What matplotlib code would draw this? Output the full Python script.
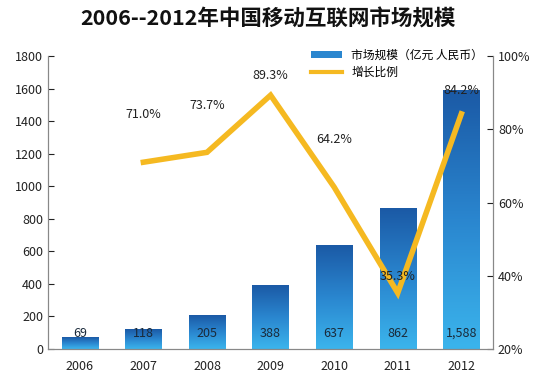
import numpy as np
import matplotlib
matplotlib.use("Agg")
import matplotlib.pyplot as plt
from matplotlib.colors import LinearSegmentedColormap
from matplotlib.patches import Patch
from matplotlib.lines import Line2D

plt.rcParams['font.family'] = ['Noto Sans CJK SC', 'DejaVu Sans']

years = ["2006", "2007", "2008", "2009", "2010", "2011", "2012"]
market = [69, 118, 205, 388, 637, 862, 1588]
market_labels = ["69", "118", "205", "388", "637", "862", "1,588"]
growth_years = ["2007", "2008", "2009", "2010", "2011", "2012"]
growth = [71.0, 73.7, 89.3, 64.2, 35.3, 84.2]

# where the growth labels sit, in % units above each point
label_lift = [12.9, 12.9, 5.5, 12.9, 4.6, 6.5]

fig = plt.figure(figsize=(5.36, 3.8), dpi=100)
ax = fig.add_axes([0.0896, 0.0816, 0.8304, 0.771])
ax2 = ax.twinx()

x = np.arange(len(years))
bar_w = 0.57
cmap = LinearSegmentedColormap.from_list("bl", ["#3bb4ec", "#2a86cf", "#1b5aa6"])
grad = np.linspace(0, 1, 100).reshape(-1, 1)
bars = ax.bar(x, market, width=bar_w, color="none")
for b in bars:
    x0, h = b.get_x(), b.get_height()
    ax.imshow(grad, cmap=cmap, aspect="auto", origin="lower",
              extent=[x0, x0 + bar_w, 0, h], zorder=2)
for xi, lab in zip(x, market_labels):
    ax.text(xi, 95, lab, ha="center", va="center", fontsize=9, color="#1a2a3a", zorder=5)

ax.set_xlim(-0.5, len(years) - 0.5)
ax.set_ylim(0, 1800)
ax.set_yticks(range(0, 1801, 200))
ax.set_xticks(x)
ax.set_xticklabels(years)
ax.tick_params(axis="y", direction="in", length=4, labelsize=9, colors="#222222")
ax.tick_params(axis="x", length=0, labelsize=9, pad=8, colors="#222222")

gx = [years.index(g) for g in growth_years]
ax2.plot(gx, growth, color="#f5b921", lw=4, solid_joinstyle="miter", zorder=2)
for xi, v, d in zip(gx, growth, label_lift):
    ax2.text(xi, v + d, f"{v:.1f}%", ha="center", va="center", fontsize=9,
             color="#222222", zorder=5)
ax2.set_ylim(20, 100)
ax2.set_yticks(range(20, 101, 20))
ax2.set_yticklabels([f"{t}%" for t in range(20, 101, 20)])
ax2.tick_params(axis="y", direction="in", length=4, labelsize=9, colors="#222222")

for a in (ax, ax2):
    a.spines["top"].set_visible(False)
    for s in ("left", "right", "bottom"):
        a.spines[s].set_color("#888888")

handles = [Patch(facecolor="#2a86cf", label="市场规模（亿元 人民币）"),
           Line2D([0], [0], color="#f5b921", lw=3, label="增长比例")]
ax.legend(handles=handles, loc="upper left", bbox_to_anchor=(0.58, 1.04),
          fontsize=8.5, frameon=False, handlelength=2.6, handleheight=0.5,
          labelspacing=0.3, borderaxespad=0)

fig.text(0.5, 0.95, "2006--2012年中国移动互联网市场规模", ha="center", va="center",
         fontsize=15.5, fontweight="bold", color="#111111")

fig.savefig("out.png", dpi=100)
